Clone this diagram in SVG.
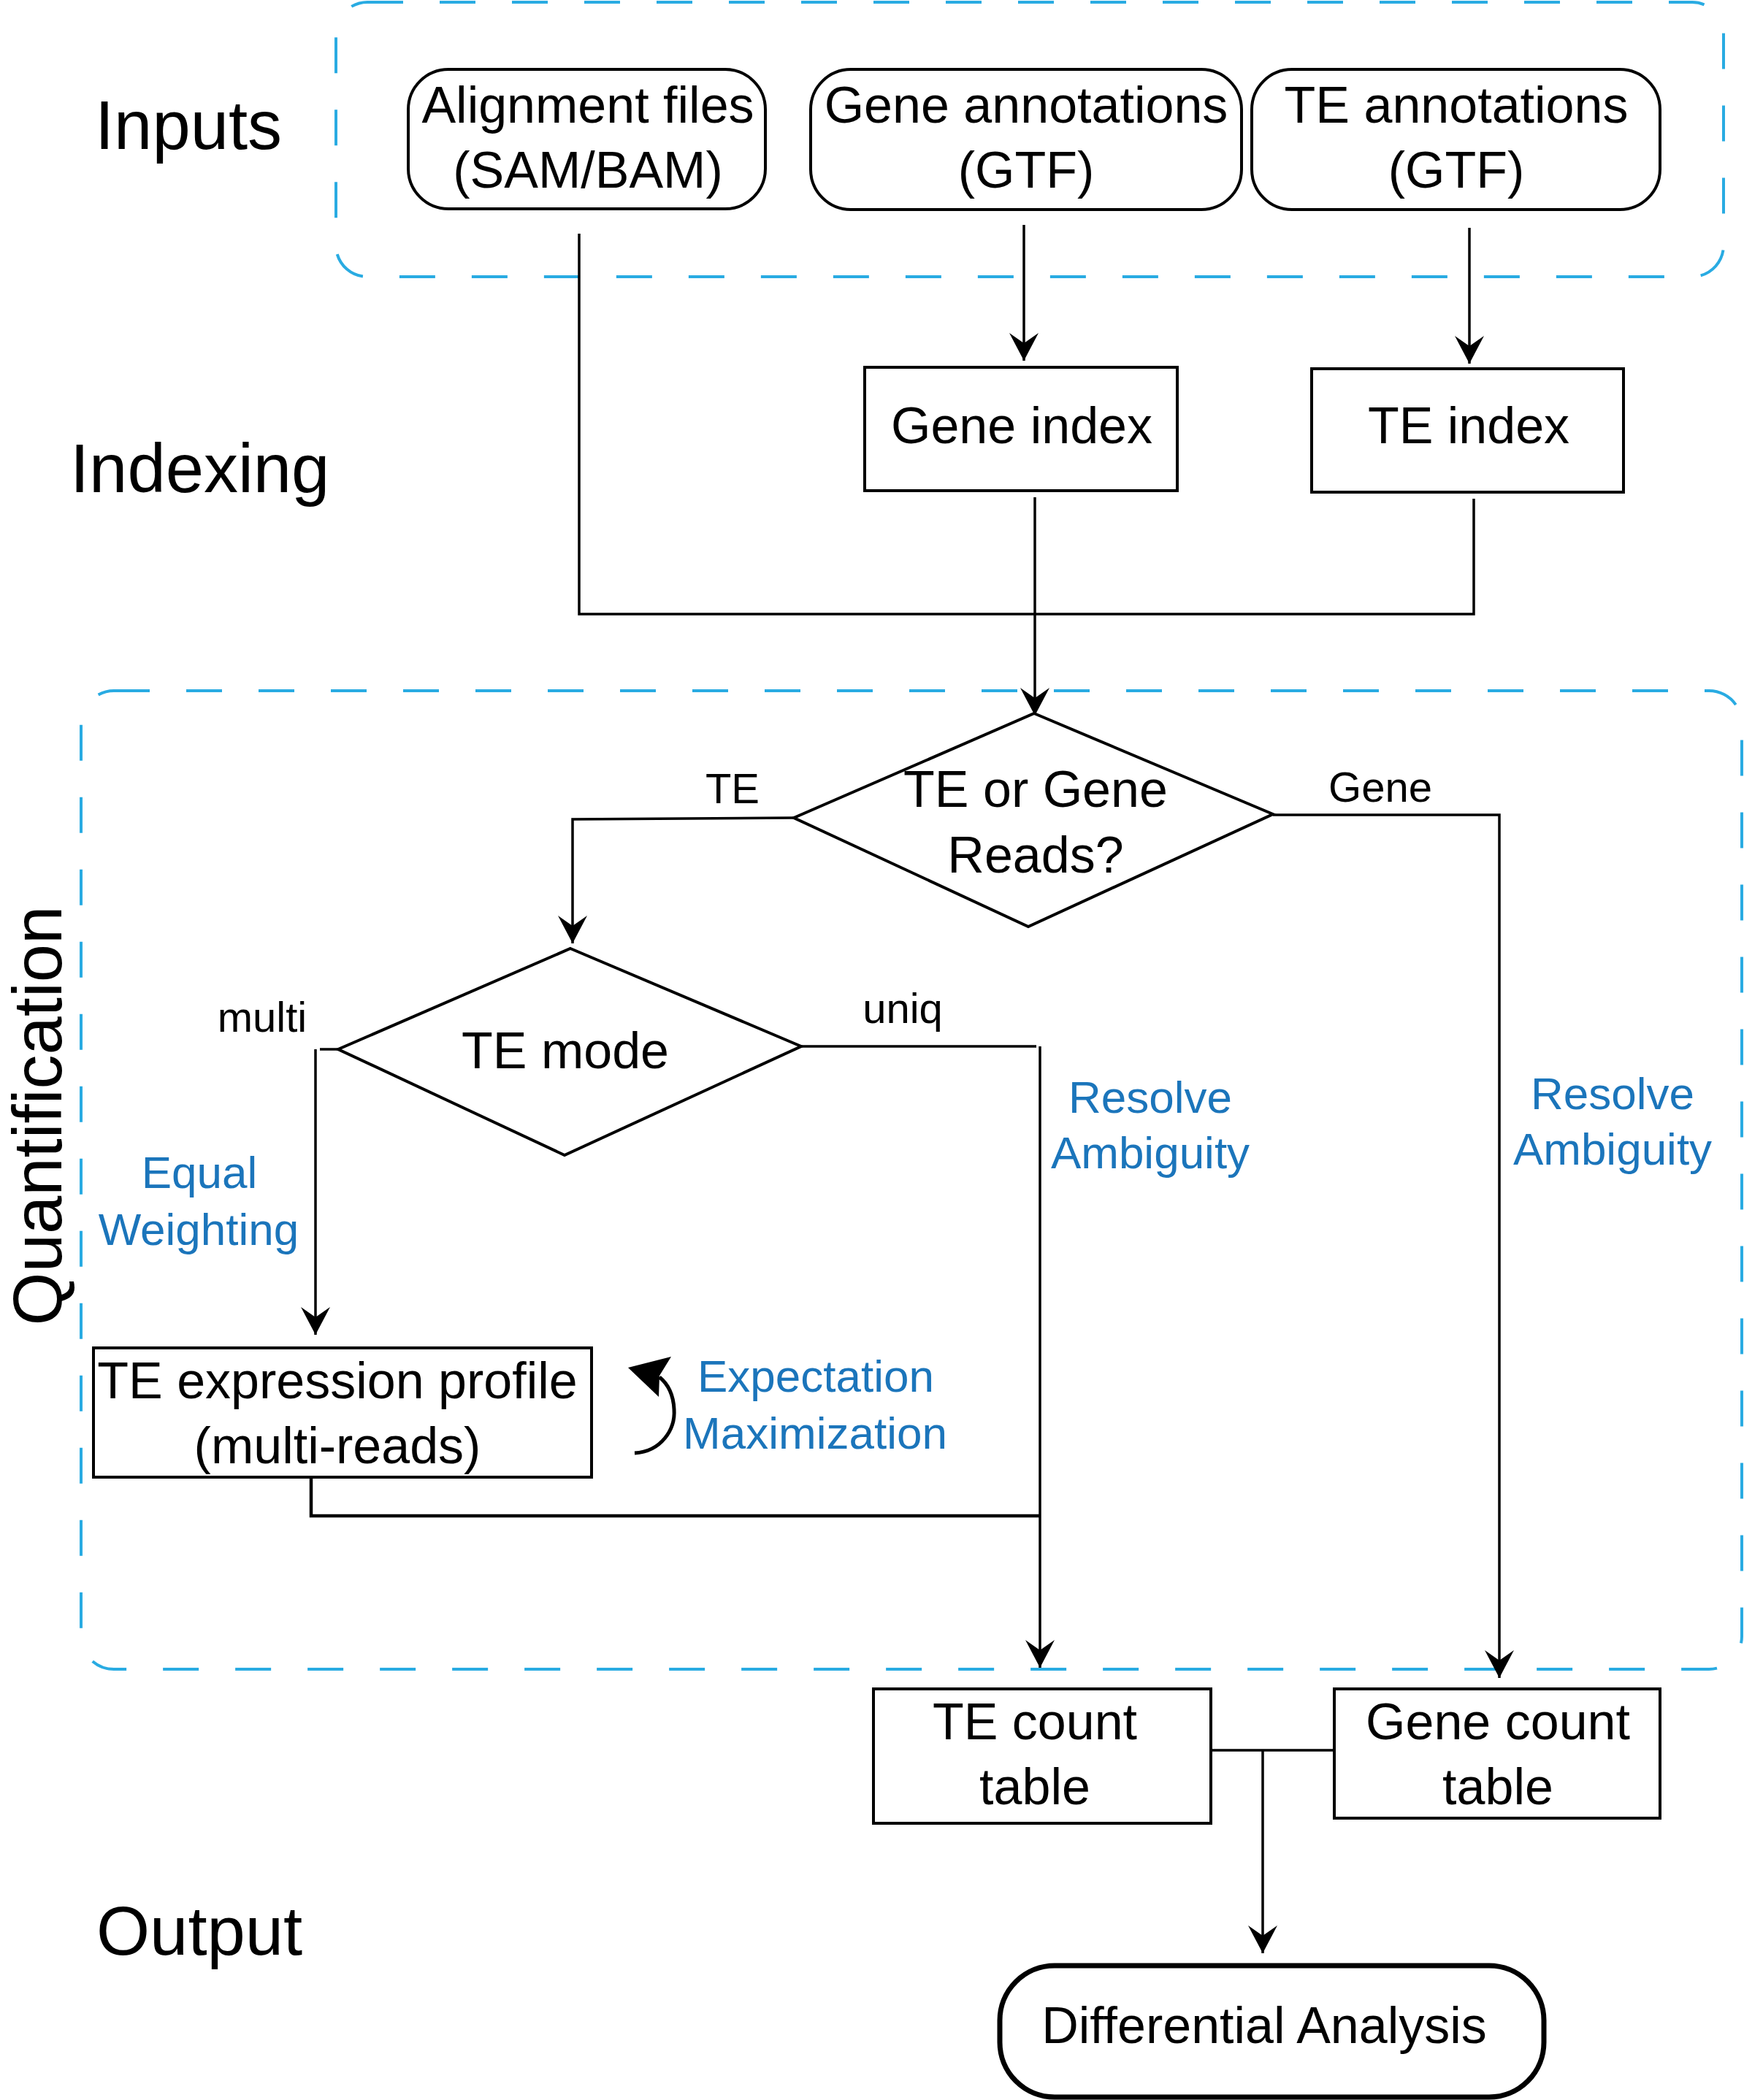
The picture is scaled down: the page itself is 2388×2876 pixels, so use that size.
<svg xmlns="http://www.w3.org/2000/svg" width="2388" height="2876" viewBox="0 0 2388 2876">
<style>
text{font-family:"Liberation Sans",Arial,sans-serif;fill:#000}
.stage{font-size:94px}
.node{font-size:70px;text-anchor:middle}
.lbl{font-size:58px;text-anchor:middle}
.blue{font-size:62px;text-anchor:middle;fill:#1b75bb}
.box{fill:#fff;stroke:#000;stroke-width:4}
.group{fill:none;stroke:#29abe2;stroke-width:4;stroke-dasharray:49 50}
.conn{fill:none;stroke:#000;stroke-width:3.5}
</style>
<defs>
<marker id="ah" viewBox="-40 -22 44 44" refX="0" refY="0" markerWidth="44" markerHeight="44" markerUnits="userSpaceOnUse" orient="auto">
<path d="M0,0 L-38,-20 L-24,0 L-38,20 Z" fill="#000"/>
</marker>
</defs>
<rect width="2388" height="2876" fill="#fff"/>

<g id="group-inputs"><rect class="group" x="460" y="3" width="1900" height="376" rx="43"/></g>
<g id="group-quant"><rect class="group" x="111" y="946" width="2274" height="1340" rx="45"/></g>

<g id="stage-labels">
<text class="stage" x="130" y="204">Inputs</text>
<text class="stage" x="96" y="674">Indexing</text>
<text class="stage" x="132" y="2677">Output</text>
<text class="stage" transform="translate(84,1528) rotate(-90)" text-anchor="middle">Quantification</text>
</g>

<g id="connectors">
<path class="conn" d="M793,320 V841 H2018 V683"/>
<path class="conn" d="M1417,681 V980" marker-end="url(#ah)"/>
<path class="conn" d="M1402,308 V494" marker-end="url(#ah)"/>
<path class="conn" d="M2012,312 V498" marker-end="url(#ah)"/>
<path class="conn" d="M1087,1120 L784,1122 V1292" marker-end="url(#ah)"/>
<path class="conn" d="M1743,1116 H2053 V2298" marker-end="url(#ah)"/>
<path class="conn" d="M463,1437 H438"/>
<path class="conn" d="M432,1437 V1828" marker-end="url(#ah)"/>
<path class="conn" d="M1097,1433 H1419"/>
<path class="conn" d="M1424,1433 V2284" marker-end="url(#ah)"/>
<path class="conn" d="M426,2023 V2076 H1424" style="stroke-width:4.5"/>
<path class="conn" d="M1658,2397 H1827"/>
<path class="conn" d="M1729,2397 V2675" marker-end="url(#ah)"/>
<path class="conn" d="M869,1990 C905,1988 925,1958 923,1930 C922,1910 914,1895 903,1886" style="stroke-width:5"/>
<path d="M860,1873 L919,1858 L903,1884 L902,1913 Z" fill="#000"/>
</g>

<g id="alignment-files">
<rect class="box" x="559" y="95" width="489" height="191" rx="55"/>
<text class="node" x="805" y="168">Alignment files</text>
<text class="node" x="805" y="257">(SAM/BAM)</text>
</g>
<g id="gene-annotations">
<rect class="box" x="1110" y="95" width="590" height="192" rx="55"/>
<text class="node" x="1405" y="168">Gene annotations</text>
<text class="node" x="1405" y="257">(GTF)</text>
</g>
<g id="te-annotations">
<rect class="box" x="1714" y="95" width="559" height="192" rx="55"/>
<text class="node" x="1994" y="168">TE annotations</text>
<text class="node" x="1994" y="257">(GTF)</text>
</g>
<g id="gene-index">
<rect class="box" x="1184" y="503" width="428" height="169"/>
<text class="node" x="1399" y="607">Gene index</text>
</g>
<g id="te-index">
<rect class="box" x="1796" y="505" width="427" height="169"/>
<text class="node" x="2011" y="607">TE index</text>
</g>
<g id="te-or-gene">
<polygon class="box" points="1416,977 1743,1115 1408,1269 1087,1120"/>
<text class="node" x="1418" y="1105">TE or Gene</text>
<text class="node" x="1418" y="1195">Reads?</text>
</g>
<g id="te-mode">
<polygon class="box" points="781,1299 1097,1433 773,1582 463,1437"/>
<text class="node" x="774" y="1463">TE mode</text>
</g>
<g id="te-expression-profile">
<rect class="box" x="128" y="1846" width="682" height="177"/>
<text class="node" x="462" y="1915">TE expression profile</text>
<text class="node" x="462" y="2004">(multi-reads)</text>
</g>
<g id="te-count-table">
<rect class="box" x="1196" y="2313" width="462" height="184"/>
<text class="node" x="1417" y="2382">TE count</text>
<text class="node" x="1417" y="2471">table</text>
</g>
<g id="gene-count-table">
<rect class="box" x="1827" y="2313" width="446" height="177"/>
<text class="node" x="2051" y="2382">Gene count</text>
<text class="node" x="2051" y="2471">table</text>
</g>
<g id="differential-analysis">
<rect class="box" x="1369" y="2692" width="745" height="180" rx="75" style="stroke-width:7"/>
<text class="node" x="1731" y="2798">Differential Analysis</text>
</g>

<g id="edge-labels">
<text class="lbl" x="1003" y="1100">TE</text>
<text class="lbl" x="1890" y="1098">Gene</text>
<text class="lbl" x="359" y="1413">multi</text>
<text class="lbl" x="1236" y="1401">uniq</text>
<text class="blue" x="273" y="1627">Equal</text>
<text class="blue" x="272" y="1705">Weighting</text>
<text class="blue" x="1575" y="1524">Resolve</text>
<text class="blue" x="1575" y="1600">Ambiguity</text>
<text class="blue" x="2208" y="1519">Resolve</text>
<text class="blue" x="2208" y="1595">Ambiguity</text>
<text class="blue" x="1117" y="1906">Expectation</text>
<text class="blue" x="1116" y="1984">Maximization</text>
</g>
</svg>
